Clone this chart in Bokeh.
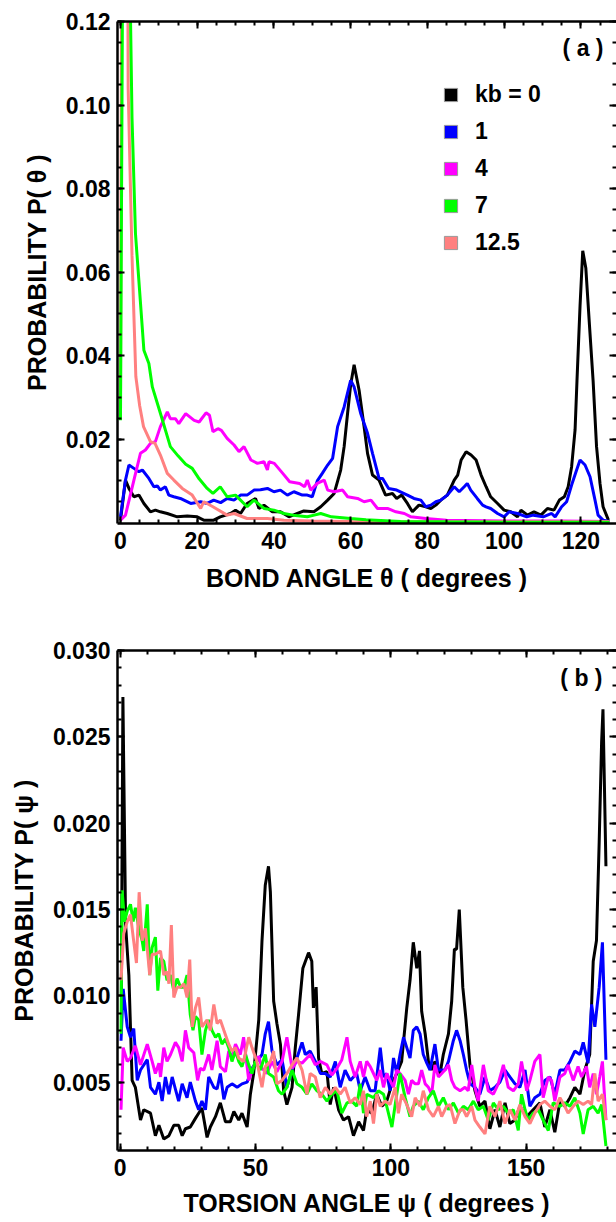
from bokeh.plotting import figure
from bokeh.layouts import column
from bokeh.models import (Range1d, FixedTicker, LinearAxis, Legend, LegendItem, Label,
                          NumeralTickFormatter, CustomJSTickFormatter, ColumnDataSource)
from bokeh.embed import file_html
from bokeh.resources import INLINE

FONT = "Liberation Sans"

# ---------------- data ----------------
legend_labels = ["kb = 0", "1", "4", "7", "12.5"]
colors = ["#000000", "#0000ff", "#ff00ff", "#00ff00", "#ff8080"]

# panel (a): bond angle theta (degrees) vs probability
bond_k0 = [(0.0,0.0006),(1.3,0.0102),(2.2,0.0082),(3.5,0.0062),(4.8,0.0066),(6.1,0.0046),(7.8,0.0026),(9.1,0.0030),(10.4,0.0026),(12.2,0.0022),(14.8,0.0014),(17.4,0.0016),(20.0,0.0014),(21.7,0.0006),(24.3,0.0006),(26.0,0.0014),(28.7,0.0022),(30.0,0.0030),(31.3,0.0022),(33.0,0.0046),(35.2,0.0058),(36.1,0.0034),(37.4,0.0042),(39.6,0.0026),(41.7,0.0026),(43.9,0.0014),(46.1,0.0022),(47.8,0.0028),(50.4,0.0026),(52.2,0.0038),(54.0,0.0054),(55.7,0.0070),(57.4,0.0126),(58.3,0.0182),(59.2,0.0262),(60.0,0.0330),(60.9,0.0378),(62.2,0.0317),(63.5,0.0230),(64.4,0.0166),(65.7,0.0114),(67.4,0.0102),(69.1,0.0066),(70.9,0.0070),(72.0,0.0058),(73.3,0.0066),(74.8,0.0046),(76.1,0.0026),(77.8,0.0042),(79.6,0.0038),(80.9,0.0034),(82.2,0.0042),(83.5,0.0054),(85.2,0.0066),(87.0,0.0102),(87.9,0.0114),(88.8,0.0150),(90.1,0.0170),(91.4,0.0162),(92.7,0.0150),(94.0,0.0114),(95.3,0.0086),(96.5,0.0062),(98.3,0.0046),(100.0,0.0030),(101.7,0.0026),(103.5,0.0014),(104.4,0.0030),(106.1,0.0018),(107.8,0.0026),(109.6,0.0018),(111.3,0.0034),(113.0,0.0030),(114.4,0.0054),(115.7,0.0062),(116.7,0.0086),(117.6,0.0134),(118.5,0.0222),(119.0,0.0340),(119.8,0.0520),(120.5,0.0651),(121.3,0.0610),(122.2,0.0480),(123.2,0.0340),(124.1,0.0182),(125.0,0.0094),(125.8,0.0038),(127.2,0.0006)]
bond_k1 = [(0.0,0.0014),(1.3,0.0102),(2.2,0.0138),(3.5,0.0130),(4.8,0.0122),(5.7,0.0126),(7.4,0.0106),(8.7,0.0086),(9.6,0.0088),(10.4,0.0078),(11.7,0.0086),(12.6,0.0066),(13.9,0.0062),(15.6,0.0058),(18.3,0.0046),(20.9,0.0050),(22.6,0.0046),(24.3,0.0054),(26.1,0.0048),(27.8,0.0058),(29.6,0.0054),(31.3,0.0066),(33.0,0.0066),(34.8,0.0078),(36.5,0.0079),(38.3,0.0082),(40.0,0.0074),(41.7,0.0078),(43.5,0.0066),(45.2,0.0074),(47.4,0.0066),(48.7,0.0066),(50.0,0.0062),(51.3,0.0100),(52.6,0.0118),(54.0,0.0138),(55.3,0.0154),(56.6,0.0230),(58.3,0.0277),(60.0,0.0341),(60.9,0.0325),(62.6,0.0262),(64.4,0.0214),(65.7,0.0166),(67.4,0.0106),(68.3,0.0106),(69.9,0.0082),(72.0,0.0078),(74.8,0.0066),(76.5,0.0058),(78.3,0.0054),(79.6,0.0038),(80.9,0.0042),(82.2,0.0050),(83.5,0.0054),(85.2,0.0066),(87.0,0.0086),(88.3,0.0074),(89.6,0.0086),(90.4,0.0094),(91.3,0.0078),(93.0,0.0058),(94.4,0.0042),(95.3,0.0038),(96.5,0.0034),(98.3,0.0022),(100.0,0.0014),(101.3,0.0026),(103.5,0.0022),(105.9,0.0014),(107.6,0.0018),(110.2,0.0014),(112.4,0.0022),(113.3,0.0014),(115.0,0.0038),(116.3,0.0050),(117.6,0.0090),(118.9,0.0126),(119.8,0.0150),(121.1,0.0138),(122.4,0.0110),(123.7,0.0054),(124.5,0.0018),(125.8,0.0006),(127.5,0.0003)]
bond_k4 = [(0.0,0.0006),(1.3,0.0018),(3.5,0.0102),(5.2,0.0166),(6.5,0.0174),(7.8,0.0190),(9.1,0.0194),(10.4,0.0230),(12.2,0.0265),(13.0,0.0249),(14.3,0.0249),(15.2,0.0237),(17.0,0.0261),(19.2,0.0245),(20.5,0.0241),(22.3,0.0263),(23.2,0.0257),(24.1,0.0218),(25.4,0.0225),(26.3,0.0221),(27.8,0.0202),(29.6,0.0186),(30.9,0.0170),(32.2,0.0182),(34.0,0.0150),(35.7,0.0142),(37.4,0.0146),(38.3,0.0126),(38.7,0.0146),(40.1,0.0142),(42.3,0.0118),(44.1,0.0098),(46.7,0.0094),(48.0,0.0086),(48.7,0.0102),(49.6,0.0078),(51.3,0.0094),(53.1,0.0102),(54.0,0.0078),(55.7,0.0074),(57.9,0.0078),(59.2,0.0062),(61.8,0.0058),(63.5,0.0050),(65.3,0.0054),(67.0,0.0034),(69.6,0.0034),(71.8,0.0026),(74.0,0.0022),(75.7,0.0014),(79.6,0.0010),(85.0,0.0006),(100.0,0.0004),(115.0,0.0004),(127.5,0.0003)]
bond_k7 = [(0.0,0.0245),(1.0,0.2200),(3.0,0.0970),(3.9,0.0693),(6.1,0.0413),(7.4,0.0381),(8.3,0.0325),(10.4,0.0262),(13.0,0.0182),(15.0,0.0160),(17.0,0.0140),(18.7,0.0130),(20.5,0.0105),(22.6,0.0082),(24.1,0.0070),(26.0,0.0086),(27.8,0.0062),(30.0,0.0066),(33.0,0.0038),(34.8,0.0054),(37.4,0.0034),(40.0,0.0030),(42.6,0.0022),(45.0,0.0018),(48.7,0.0014),(50.5,0.0018),(52.2,0.0022),(55.0,0.0014),(60.0,0.0010),(64.0,0.0007),(73.0,0.0003),(85.0,0.0002),(100.0,0.0001),(127.5,0.0001)]
bond_k125 = [(0.0,0.0260),(1.0,0.4000),(2.0,0.1040),(3.0,0.0640),(4.0,0.0350),(5.0,0.0280),(6.0,0.0230),(7.8,0.0194),(9.0,0.0190),(10.4,0.0162),(12.2,0.0118),(13.9,0.0102),(16.1,0.0082),(18.7,0.0066),(20.9,0.0034),(21.7,0.0050),(24.1,0.0038),(27.8,0.0018),(29.6,0.0022),(33.0,0.0010),(38.3,0.0010),(42.6,0.0006),(50.0,0.0004),(60.0,0.0003),(127.5,0.0002)]

# panel (b): torsion angle psi (degrees) vs probability
tors_k0 = [(0.4,0.0100),(1.0,0.0273),(2.0,0.0141),(3.2,0.0112),(4.4,0.0051),(5.6,0.0047),(7.5,0.0028),(8.7,0.0034),(11.2,0.0032),(13.0,0.0019),(14.3,0.0025),(16.1,0.0017),(18.0,0.0019),(19.8,0.0025),(21.6,0.0025),(22.9,0.0019),(24.1,0.0023),(25.9,0.0024),(27.8,0.0029),(29.0,0.0032),(30.2,0.0035),(32.1,0.0018),(33.3,0.0024),(35.2,0.0030),(37.0,0.0038),(38.9,0.0027),(40.7,0.0027),(42.0,0.0033),(43.8,0.0028),(45.0,0.0032),(46.9,0.0024),(48.1,0.0043),(49.3,0.0055),(51.2,0.0086),(52.4,0.0132),(53.6,0.0164),(54.8,0.0175),(55.5,0.0160),(56.7,0.0097),(57.9,0.0084),(59.2,0.0072),(60.4,0.0045),(61.6,0.0037),(63.5,0.0047),(64.7,0.0070),(65.9,0.0089),(67.5,0.0116),(69.6,0.0125),(70.8,0.0120),(71.4,0.0093),(72.4,0.0105),(73.3,0.0064),(74.5,0.0055),(76.4,0.0056),(77.6,0.0037),(78.9,0.0047),(80.7,0.0034),(82.5,0.0028),(84.4,0.0030),(86.2,0.0019),(88.1,0.0027),(89.9,0.0022),(91.1,0.0034),(93.0,0.0032),(94.8,0.0043),(96.7,0.0036),(98.5,0.0039),(100.4,0.0049),(102.2,0.0055),(104.0,0.0062),(105.9,0.0093),(107.1,0.0109),(108.3,0.0131),(109.6,0.0116),(110.6,0.0126),(111.4,0.0091),(112.7,0.0078),(113.9,0.0062),(115.1,0.0057),(116.3,0.0062),(118.2,0.0055),(119.4,0.0066),(121.3,0.0078),(122.5,0.0097),(123.5,0.0127),(124.3,0.0127),(125.3,0.0150),(126.6,0.0105),(127.8,0.0086),(129.3,0.0059),(131.1,0.0045),(132.9,0.0036),(134.8,0.0039),(136.6,0.0023),(138.5,0.0034),(140.3,0.0024),(142.2,0.0038),(144.0,0.0026),(145.9,0.0028),(147.7,0.0036),(150.2,0.0030),(152.6,0.0034),(155.1,0.0038),(156.9,0.0024),(158.8,0.0034),(160.6,0.0021),(162.5,0.0039),(164.3,0.0036),(166.2,0.0041),(168.0,0.0047),(169.9,0.0043),(171.7,0.0057),(173.5,0.0066),(174.8,0.0120),(176.0,0.0132),(177.0,0.0189),(177.9,0.0247),(178.4,0.0266),(179.5,0.0175)]
tors_k1 = [(0.3,0.0074),(1.1,0.0104),(2.6,0.0082),(3.8,0.0076),(5.0,0.0081),(6.3,0.0051),(7.5,0.0057),(10.0,0.0063),(11.2,0.0047),(13.0,0.0043),(14.3,0.0050),(15.5,0.0039),(16.7,0.0053),(18.0,0.0043),(19.2,0.0053),(20.4,0.0046),(21.6,0.0039),(22.9,0.0049),(24.7,0.0041),(25.9,0.0050),(27.8,0.0039),(29.0,0.0034),(30.2,0.0039),(31.5,0.0034),(32.7,0.0053),(34.6,0.0047),(35.8,0.0046),(37.0,0.0055),(38.3,0.0040),(39.5,0.0047),(41.3,0.0049),(43.2,0.0047),(45.0,0.0049),(46.9,0.0050),(48.7,0.0058),(50.5,0.0062),(52.4,0.0066),(53.6,0.0078),(54.8,0.0085),(56.1,0.0068),(57.9,0.0060),(59.8,0.0063),(61.6,0.0047),(63.5,0.0057),(65.3,0.0064),(67.2,0.0073),(68.4,0.0066),(70.2,0.0068),(72.1,0.0062),(74.0,0.0055),(75.8,0.0055),(77.6,0.0053),(79.5,0.0062),(81.3,0.0047),(83.1,0.0057),(85.0,0.0051),(87.4,0.0055),(88.7,0.0045),(90.5,0.0053),(92.4,0.0045),(94.2,0.0045),(96.1,0.0070),(97.3,0.0053),(98.5,0.0055),(99.7,0.0045),(101.0,0.0064),(102.2,0.0055),(103.4,0.0066),(104.7,0.0076),(105.9,0.0070),(107.1,0.0064),(108.3,0.0080),(109.6,0.0082),(110.8,0.0078),(112.0,0.0066),(113.3,0.0061),(114.5,0.0057),(116.3,0.0072),(117.6,0.0057),(118.8,0.0057),(120.0,0.0057),(121.3,0.0062),(123.1,0.0074),(124.3,0.0080),(125.6,0.0074),(126.8,0.0066),(128.0,0.0057),(129.3,0.0049),(131.1,0.0047),(132.9,0.0043),(134.8,0.0053),(136.6,0.0045),(138.5,0.0047),(140.3,0.0050),(142.2,0.0057),(144.0,0.0053),(145.9,0.0049),(147.7,0.0047),(149.6,0.0057),(151.4,0.0036),(153.2,0.0041),(155.1,0.0043),(156.9,0.0051),(158.8,0.0053),(160.6,0.0043),(162.5,0.0057),(164.3,0.0057),(166.2,0.0062),(168.0,0.0068),(169.9,0.0066),(171.1,0.0073),(172.9,0.0061),(174.2,0.0095),(175.4,0.0082),(177.0,0.0105),(178.2,0.0131),(179.5,0.0063)]
tors_k4 = [(0.3,0.0034),(1.1,0.0070),(2.6,0.0062),(3.8,0.0064),(5.6,0.0071),(7.5,0.0060),(10.0,0.0072),(11.8,0.0062),(13.0,0.0055),(14.3,0.0061),(14.9,0.0053),(16.1,0.0070),(17.3,0.0062),(18.6,0.0066),(20.4,0.0073),(21.6,0.0070),(22.9,0.0062),(24.1,0.0080),(25.3,0.0070),(27.2,0.0067),(28.6,0.0051),(29.6,0.0058),(30.9,0.0057),(32.7,0.0066),(33.9,0.0057),(35.8,0.0074),(37.0,0.0059),(38.9,0.0056),(40.1,0.0068),(41.3,0.0064),(42.6,0.0072),(44.4,0.0066),(45.6,0.0076),(47.5,0.0051),(49.3,0.0059),(51.2,0.0065),(52.4,0.0058),(54.2,0.0055),(56.1,0.0062),(57.9,0.0056),(59.8,0.0062),(61.6,0.0076),(63.5,0.0058),(65.3,0.0062),(67.2,0.0061),(69.0,0.0064),(70.2,0.0066),(72.1,0.0060),(73.9,0.0062),(76.4,0.0060),(78.2,0.0054),(80.1,0.0058),(81.9,0.0063),(83.8,0.0076),(85.0,0.0062),(86.8,0.0053),(88.7,0.0062),(89.9,0.0053),(91.1,0.0062),(92.4,0.0059),(93.6,0.0055),(94.8,0.0051),(96.1,0.0057),(97.3,0.0047),(98.5,0.0055),(99.7,0.0051),(101.0,0.0047),(102.2,0.0057),(103.4,0.0055),(105.3,0.0051),(106.5,0.0043),(107.7,0.0051),(109.0,0.0049),(110.2,0.0049),(111.4,0.0057),(112.7,0.0049),(113.9,0.0047),(115.1,0.0043),(116.3,0.0060),(117.6,0.0053),(118.8,0.0055),(120.0,0.0057),(121.3,0.0060),(122.5,0.0051),(123.7,0.0047),(125.6,0.0045),(127.4,0.0047),(128.6,0.0045),(129.9,0.0060),(131.1,0.0047),(132.3,0.0039),(134.2,0.0060),(136.0,0.0045),(137.9,0.0043),(139.7,0.0049),(141.6,0.0060),(143.4,0.0047),(145.3,0.0045),(147.1,0.0049),(148.3,0.0062),(150.2,0.0045),(151.4,0.0051),(153.2,0.0062),(155.1,0.0066),(156.3,0.0041),(158.2,0.0053),(159.4,0.0051),(160.6,0.0039),(162.5,0.0053),(164.3,0.0055),(165.5,0.0060),(167.4,0.0051),(169.2,0.0059),(170.5,0.0053),(172.3,0.0059),(173.5,0.0047),(174.8,0.0055),(176.0,0.0043),(177.2,0.0053),(178.2,0.0062),(179.5,0.0028)]
tors_k7 = [(0.3,0.0078),(0.7,0.0161),(1.6,0.0143),(2.6,0.0149),(3.8,0.0153),(4.8,0.0143),(5.6,0.0151),(6.9,0.0139),(8.1,0.0132),(8.7,0.0126),(10.0,0.0153),(10.9,0.0112),(11.8,0.0128),(13.0,0.0134),(13.9,0.0103),(14.9,0.0122),(16.1,0.0120),(17.3,0.0109),(18.6,0.0112),(19.8,0.0103),(21.0,0.0110),(22.3,0.0105),(23.5,0.0105),(24.7,0.0112),(25.9,0.0089),(26.9,0.0080),(27.8,0.0088),(29.0,0.0086),(30.2,0.0066),(31.5,0.0080),(32.7,0.0086),(33.9,0.0080),(35.2,0.0076),(36.4,0.0078),(37.6,0.0072),(38.9,0.0075),(40.1,0.0070),(41.3,0.0062),(42.6,0.0068),(43.8,0.0062),(45.0,0.0059),(46.3,0.0066),(47.5,0.0060),(48.7,0.0055),(49.9,0.0062),(51.8,0.0057),(53.6,0.0066),(54.8,0.0055),(56.7,0.0053),(58.5,0.0045),(59.8,0.0043),(61.6,0.0047),(63.5,0.0057),(65.3,0.0049),(67.2,0.0047),(69.0,0.0043),(70.8,0.0049),(72.7,0.0045),(74.5,0.0043),(76.4,0.0039),(78.2,0.0043),(80.1,0.0045),(81.9,0.0032),(83.8,0.0038),(85.6,0.0039),(87.4,0.0036),(88.7,0.0049),(89.9,0.0032),(91.1,0.0043),(93.6,0.0041),(95.4,0.0045),(97.3,0.0043),(98.5,0.0036),(100.4,0.0024),(102.2,0.0043),(103.4,0.0055),(105.3,0.0041),(107.1,0.0030),(108.3,0.0036),(110.2,0.0039),(112.0,0.0034),(113.9,0.0041),(115.7,0.0045),(117.6,0.0036),(119.4,0.0041),(121.3,0.0034),(123.1,0.0038),(125.0,0.0032),(126.8,0.0036),(128.6,0.0034),(130.5,0.0039),(132.3,0.0034),(134.2,0.0036),(136.0,0.0028),(137.9,0.0038),(139.7,0.0034),(141.6,0.0036),(143.4,0.0032),(145.3,0.0034),(147.1,0.0022),(148.3,0.0043),(149.6,0.0034),(150.8,0.0028),(152.6,0.0032),(154.5,0.0034),(156.3,0.0028),(158.2,0.0022),(160.0,0.0038),(162.5,0.0036),(164.3,0.0038),(166.2,0.0036),(168.0,0.0041),(169.9,0.0032),(171.1,0.0020),(172.9,0.0034),(174.8,0.0036),(176.6,0.0032),(177.9,0.0037),(179.5,0.0013)]
tors_k125 = [(0.3,0.0109),(1.3,0.0136),(2.6,0.0143),(3.8,0.0147),(4.8,0.0134),(6.0,0.0119),(7.0,0.0160),(8.1,0.0132),(9.3,0.0139),(10.9,0.0112),(11.8,0.0124),(13.0,0.0124),(14.9,0.0126),(16.1,0.0112),(17.3,0.0114),(18.0,0.0107),(18.9,0.0141),(19.8,0.0099),(21.0,0.0105),(22.3,0.0105),(23.5,0.0107),(24.7,0.0099),(25.7,0.0121),(26.6,0.0082),(27.8,0.0093),(29.0,0.0099),(30.2,0.0082),(32.1,0.0086),(33.3,0.0080),(34.6,0.0095),(35.8,0.0084),(37.0,0.0086),(38.3,0.0080),(40.1,0.0072),(41.3,0.0068),(42.6,0.0070),(43.8,0.0064),(45.6,0.0062),(47.5,0.0076),(48.7,0.0070),(50.5,0.0062),(52.4,0.0047),(53.6,0.0059),(55.5,0.0062),(56.7,0.0068),(57.9,0.0049),(59.8,0.0051),(61.6,0.0055),(63.5,0.0060),(65.3,0.0064),(67.2,0.0057),(69.0,0.0043),(70.2,0.0055),(72.1,0.0053),(73.9,0.0041),(75.8,0.0047),(77.6,0.0043),(79.5,0.0047),(81.3,0.0043),(83.1,0.0047),(85.0,0.0038),(86.8,0.0041),(88.7,0.0037),(89.9,0.0045),(91.1,0.0030),(92.4,0.0039),(93.6,0.0026),(94.8,0.0043),(96.1,0.0036),(97.9,0.0039),(99.7,0.0037),(101.6,0.0047),(102.8,0.0032),(104.0,0.0043),(105.9,0.0037),(107.7,0.0030),(109.0,0.0041),(110.8,0.0036),(112.0,0.0045),(113.9,0.0034),(115.7,0.0030),(117.6,0.0036),(118.8,0.0030),(120.6,0.0036),(121.9,0.0037),(123.7,0.0026),(125.6,0.0034),(126.8,0.0034),(128.0,0.0030),(129.9,0.0036),(131.1,0.0028),(132.9,0.0024),(134.8,0.0020),(136.6,0.0036),(138.5,0.0030),(140.3,0.0039),(142.2,0.0026),(144.0,0.0034),(145.9,0.0028),(147.7,0.0037),(149.6,0.0030),(151.4,0.0026),(153.2,0.0032),(155.1,0.0037),(156.9,0.0039),(158.8,0.0036),(160.6,0.0034),(162.5,0.0041),(164.3,0.0036),(165.5,0.0032),(167.4,0.0036),(169.2,0.0039),(171.1,0.0037),(172.9,0.0039),(174.2,0.0037),(175.4,0.0055),(176.6,0.0039),(178.2,0.0043),(179.5,0.0028)]

# axis ticks
bond_xticks = [0, 20, 40, 60, 80, 100, 120]
bond_xminor = [5 * i for i in range(27)]
bond_yticks = [0.02, 0.04, 0.06, 0.08, 0.10, 0.12]
bond_yminor = [0.005 * i for i in range(1, 25)]
tors_xticks = [0, 50, 100, 150]
tors_xminor = [10 * i for i in range(19)]
tors_yticks = [0.005, 0.010, 0.015, 0.020, 0.025, 0.030]
tors_yminor = [0.001 * i for i in range(2, 31)]

LW = 3


def make_panel(height, border_top, border_bottom, xr, yr, xt, xm, yt, ym, yfmt,
               xlabel, ylabel, x_stand, xlab_stand):
    p = figure(width=616, height=height, x_range=Range1d(*xr), y_range=Range1d(*yr),
               output_backend="svg", toolbar_location=None,
               x_axis_type=None, y_axis_type=None,
               min_border_left=117, min_border_right=0,
               min_border_top=border_top, min_border_bottom=border_bottom)
    p.outline_line_color = None
    p.background_fill_color = "white"
    common = dict(axis_line_width=2.5, axis_line_color="black",
                  major_tick_in=7, major_tick_out=0, minor_tick_in=4, minor_tick_out=0,
                  major_tick_line_width=2, minor_tick_line_width=2,
                  major_tick_line_color="black", minor_tick_line_color="black",
                  major_label_text_font=FONT, major_label_text_font_style="bold",
                  major_label_text_color="black",
                  axis_label_text_font=FONT, axis_label_text_font_style="bold",
                  axis_label_text_color="black", axis_label_text_font_size="25px")
    bx = LinearAxis(ticker=FixedTicker(ticks=xt, minor_ticks=xm),
                    formatter=NumeralTickFormatter(format="0"),
                    major_label_text_font_size="23px", major_label_standoff=x_stand,
                    axis_label=xlabel, axis_label_standoff=xlab_stand, **common)
    ly = LinearAxis(ticker=FixedTicker(ticks=yt, minor_ticks=ym),
                    formatter=NumeralTickFormatter(format=yfmt),
                    major_label_text_font_size="23px", major_label_standoff=7,
                    axis_label=ylabel, axis_label_standoff=12, **common)
    tx = LinearAxis(ticker=FixedTicker(ticks=xt, minor_ticks=xm),
                    formatter=CustomJSTickFormatter(code="return ''"),
                    major_label_text_font_size="0px", major_label_standoff=0, **common)
    ry = LinearAxis(ticker=FixedTicker(ticks=yt, minor_ticks=ym),
                    formatter=CustomJSTickFormatter(code="return ''"),
                    major_label_text_font_size="0px", major_label_standoff=0, **common)
    ry.axis_line_color = None   # right spine lies just outside the picture in the original
    p.add_layout(bx, "below")
    p.add_layout(ly, "left")
    p.add_layout(tx, "above")
    p.add_layout(ry, "right")
    return p


# ---------------- panel (a) ----------------
pa = make_panel(620, 21, 97, (-0.78, 129.3), (-0.0002, 0.12),
                bond_xticks, bond_xminor, bond_yticks, bond_yminor, "0.00",
                "BOND ANGLE θ ( degrees )", "PROBABILITY P( θ )", 8, 12)
bond_series = [bond_k0, bond_k1, bond_k4, bond_k125, bond_k7]
bond_colors = [colors[0], colors[1], colors[2], colors[4], colors[3]]
for s, c in zip(bond_series, bond_colors):
    pa.line([a for a, b in s], [b for a, b in s], line_color=c, line_width=LW)

items = []
for lab, c in zip(legend_labels, colors):
    src = ColumnDataSource(dict(x=[float("nan")], y=[float("nan")]))
    r = pa.scatter("x", "y", source=src, marker="square", size=13,
                   fill_color=c, line_color="#9a9a9a", line_width=1)
    items.append(LegendItem(label=lab, renderers=[r]))
leg = Legend(items=items, location=(317, 264), orientation="vertical",
             glyph_width=33, glyph_height=33, label_standoff=8, spacing=4,
             padding=0, margin=0, border_line_color=None, background_fill_alpha=0,
             label_text_font=FONT, label_text_font_style="bold",
             label_text_font_size="23px", label_text_color="black")
pa.add_layout(leg)
pa.add_layout(Label(x=486, y=476, x_units="screen", y_units="screen", text="( a )",
                    text_align="right", text_baseline="middle", text_font=FONT,
                    text_font_style="bold", text_font_size="23px", text_color="black"))

# ---------------- panel (b) ----------------
pb = make_panel(602, 30, 72, (-1.0, 183.4), (0.00104, 0.030),
                tors_xticks, tors_xminor, tors_yticks, tors_yminor, "0.000",
                "TORSION ANGLE ψ ( degrees )", "PROBABILITY P( ψ )", 8, 10)
for s, c in zip([tors_k0, tors_k1, tors_k4, tors_k7, tors_k125], colors):
    pb.line([a for a, b in s], [b for a, b in s], line_color=c, line_width=LW)
pb.add_layout(Label(x=485, y=473, x_units="screen", y_units="screen", text="( b )",
                    text_align="right", text_baseline="middle", text_font=FONT,
                    text_font_style="bold", text_font_size="23px", text_color="black"))

layout = column(pa, pb, spacing=0)
open("out.html", "w").write(file_html(layout, INLINE))
